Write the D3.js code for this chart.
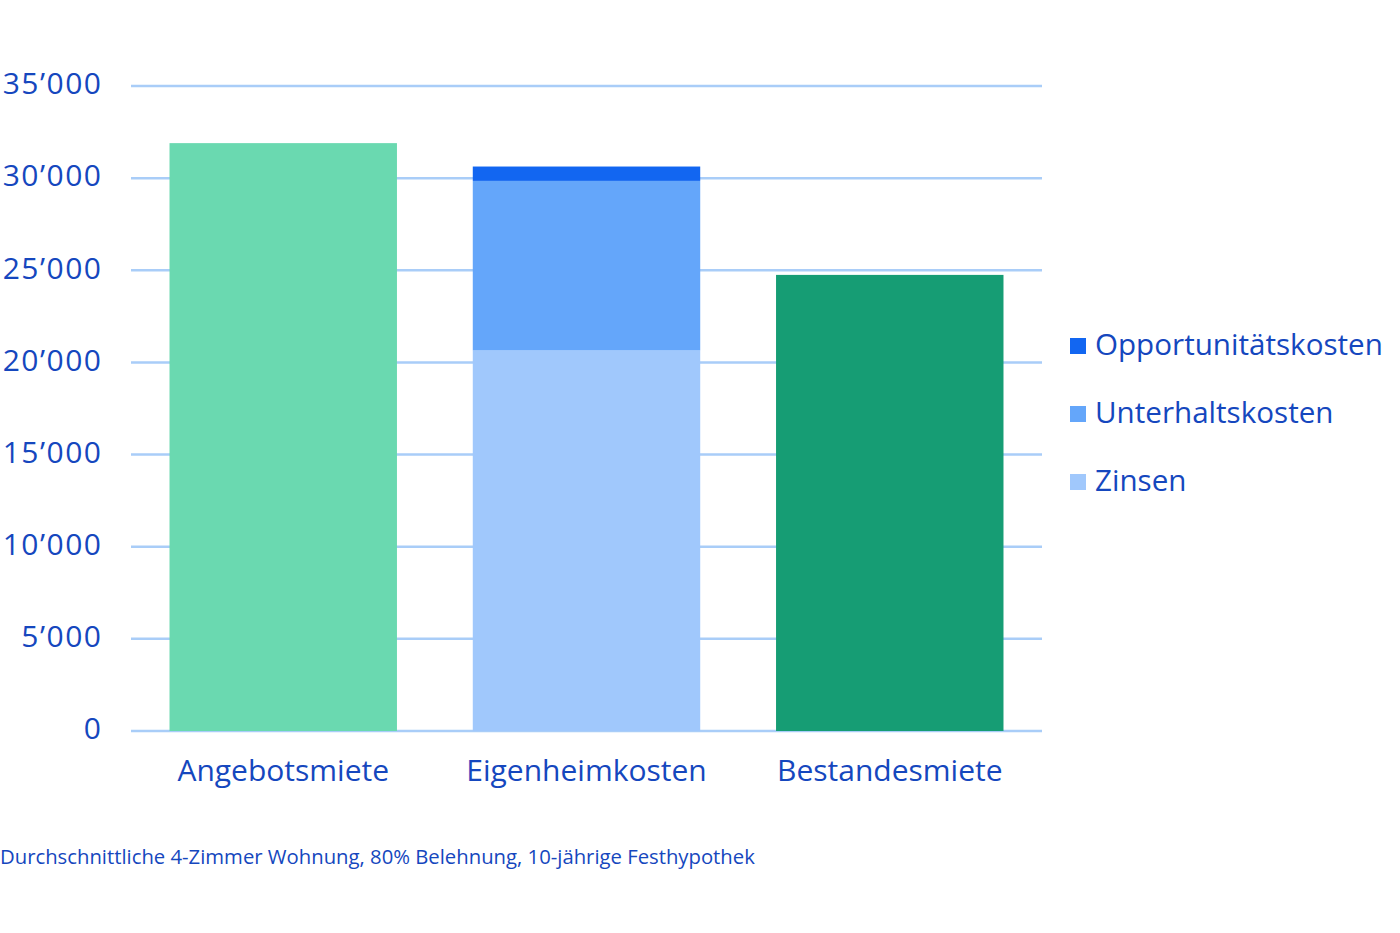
<!DOCTYPE html>
<html><head><meta charset="utf-8">
<script src="https://cdn.jsdelivr.net/npm/d3@7"></script>
<style>body{margin:0;background:#fff}svg{display:block}text{font-family:"Open Sans","Noto Sans",sans-serif}</style>
</head><body><svg id="c" width="1400" height="933"></svg>
<script>
const categories = ["Angebotsmiete","Eigenheimkosten","Bestandesmiete"];
const rentValues = [31900, null, 24750];
const zinsen = [0, 20650, 0];
const unterhalt = [0, 9200, 0];
const opportunitaet = [0, 780, 0];
const seriesNames = ["Opportunitätskosten","Unterhaltskosten","Zinsen"];
const yTicks = [0,5000,10000,15000,20000,25000,30000,35000];
const caption = "Durchschnittliche 4-Zimmer Wohnung, 80% Belehnung, 10-jährige Festhypothek";

const textColor = "#1547BE";
const gridColor = "#A9CDF8";
const rentColors = ["#6AD9B0", null, "#169D74"];
const stackColors = {Zinsen:"#A0C8FC", Unterhaltskosten:"#64A6FA", "Opportunitätskosten":"#1266F1"};

const svg = d3.select("#c");
const x = d3.scaleBand().domain(categories).range([131,1042]).paddingInner(0.25).paddingOuter(0.127);
const y = d3.scaleLinear().domain([0,35000]).range([731,86]);
const fmt = v => d3.format(",")(v).replace(/,/g,"\u2019");

// grid
const g = svg.append("g");
g.selectAll("line").data(yTicks).join("line")
  .attr("x1",131).attr("x2",1042).attr("y1",d=>y(d)).attr("y2",d=>y(d))
  .attr("stroke",gridColor).attr("stroke-width",2.5);

// y axis labels
const yAxis = d3.axisLeft(y).tickValues(yTicks).tickFormat(fmt).tickSize(0).tickPadding(0);
const ya = svg.append("g").attr("transform","translate(102.5,0)").call(yAxis);
ya.select(".domain").remove();
ya.selectAll("text").attr("fill",textColor).style("font-size","30px").style("letter-spacing","1.5px")
  .attr("dy","0.26em")
  .style("font-family",'"Open Sans","Noto Sans",sans-serif');

// rent bars
svg.append("g").selectAll("rect").data(categories.map((c,i)=>({c,v:rentValues[i],col:rentColors[i]})).filter(d=>d.v!=null))
  .join("rect").attr("x",d=>x(d.c)).attr("width",x.bandwidth())
  .attr("y",d=>y(d.v)).attr("height",d=>y(0)-y(d.v)).attr("fill",d=>d.col);

// stacked
const rows = categories.map((c,i)=>({cat:c, Zinsen:zinsen[i], Unterhaltskosten:unterhalt[i], "Opportunitätskosten":opportunitaet[i]}));
const stack = d3.stack().keys(["Zinsen","Unterhaltskosten","Opportunitätskosten"])(rows.filter(r=>r.Zinsen>0));
svg.append("g").selectAll("g").data(stack).join("g").attr("fill",d=>stackColors[d.key])
  .selectAll("rect").data(d=>d).join("rect")
  .attr("x",d=>x(d.data.cat)).attr("width",x.bandwidth())
  .attr("y",d=>y(d[1])).attr("height",d=>y(d[0])-y(d[1]));

// x labels
const xAxis = d3.axisBottom(x).tickSize(0).tickPadding(0);
const xa = svg.append("g").attr("transform","translate(0,772)").call(xAxis);
xa.select(".domain").remove();
xa.selectAll("text").attr("fill",textColor).style("font-size","30px").attr("dy","0.3em")
  .style("font-family",'"Open Sans","Noto Sans",sans-serif');

// legend
const lg = svg.append("g");
seriesNames.forEach((n,i)=>{
  const cy = 346 + i*68;
  lg.append("rect").attr("x",1070).attr("y",cy-8).attr("width",16).attr("height",16).attr("fill",stackColors[n]);
  lg.append("text").attr("x",1095).attr("y",cy).attr("dy","0.3em").attr("fill",textColor)
    .style("font-size","29.6px").text(n);
});

// caption
svg.append("text").attr("x",0).attr("y",858).attr("dy","0.32em").attr("fill",textColor)
  .style("font-size","20.3px").text(caption);
</script></body></html>
